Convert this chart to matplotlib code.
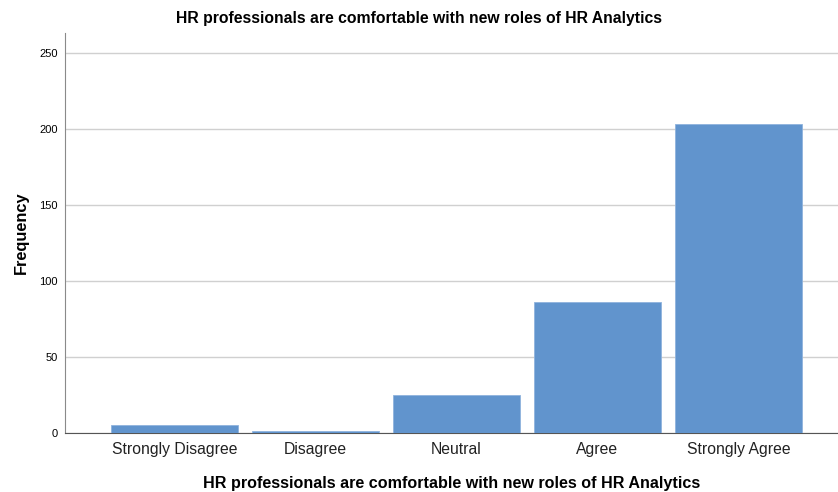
import matplotlib
matplotlib.use("Agg")
import matplotlib.pyplot as plt

categories = ["Strongly Disagree", "Disagree", "Neutral", "Agree", "Strongly Agree"]
frequency = [5, 1, 25, 86, 203]
yticks = [0, 50, 100, 150, 200, 250]

title = "HR professionals are comfortable with new roles of HR Analytics"

plt.rcParams["font.family"] = ["Liberation Sans", "DejaVu Sans"]

fig = plt.figure(figsize=(8.38, 4.92), dpi=100)
ax = fig.add_axes([65 / 838, 1 - 433 / 492, (838 - 65) / 838, (433 - 33) / 492])

x = list(range(len(categories)))
ax.bar(x, frequency, width=0.9, color="#6194cd", edgecolor="#8fb3dd", linewidth=0.6, zorder=3)

ax.set_xlim(-0.777, 4.706)
ax.set_ylim(0, 263)
ax.set_yticks(yticks)
ax.set_yticklabels([str(v) for v in yticks], fontsize=8)
ax.set_xticks(x)
ax.set_xticklabels(categories, fontsize=11.3, color="#222222", va="baseline")
ax.tick_params(axis="both", length=0)
ax.tick_params(axis="x", pad=15)
ax.tick_params(axis="y", pad=5)

ax.grid(axis="y", color="#d0d0d0", linewidth=1.0, zorder=0)
for side in ["top", "right"]:
    ax.spines[side].set_visible(False)
ax.spines["left"].set_color("#8a8a8a")
ax.spines["bottom"].set_color("#555555")

ax.set_ylabel("Frequency", fontsize=11.8, fontweight="bold", labelpad=8)
ax.set_xlabel(title, fontsize=11.6, fontweight="bold")
ax.xaxis.set_label_coords(0.5, -(476 - 433) / 400, transform=ax.transAxes)
ax.xaxis.label.set_va("top")
fig.text(0.5, 1 - 18 / 492, title, ha="center", va="center", fontsize=11.3, fontweight="bold")

fig.savefig("out.png", dpi=100, facecolor="white")
